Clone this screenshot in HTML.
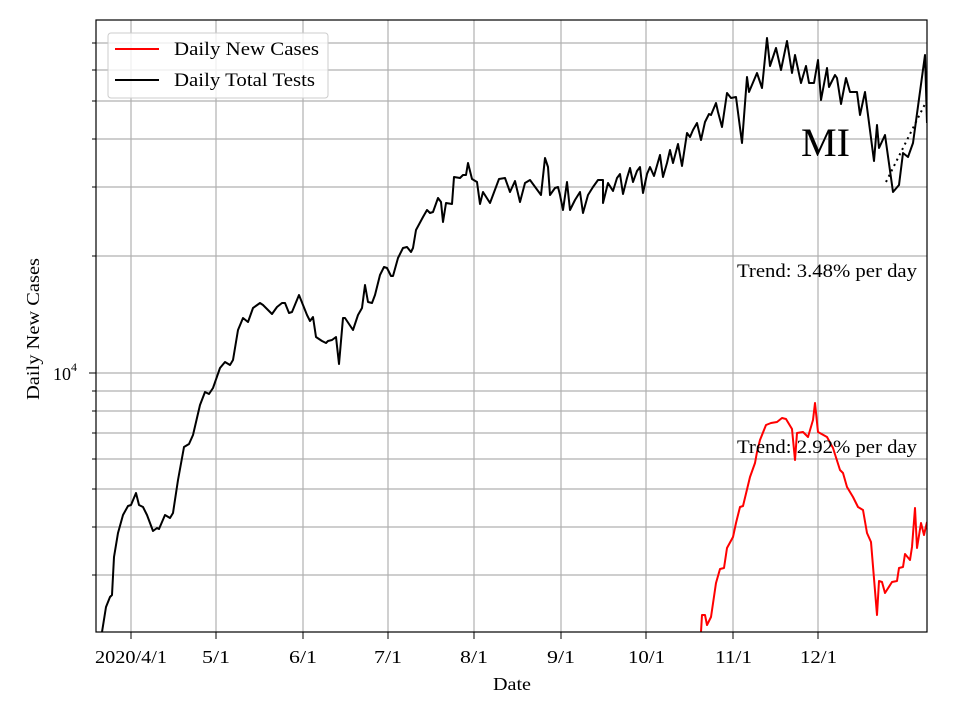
<!DOCTYPE html>
<html><head><meta charset="utf-8"><style>body{margin:0;background:#fff}svg{display:block}text{font-family:"Liberation Serif",serif}</style></head><body>
<svg width="960" height="720" xmlns="http://www.w3.org/2000/svg">
<rect width="960" height="720" fill="#fff"/>
<g stroke="#b0b0b0" stroke-width="1.2">
<line x1="131" y1="20" x2="131" y2="632"/><line x1="216" y1="20" x2="216" y2="632"/><line x1="303" y1="20" x2="303" y2="632"/><line x1="388" y1="20" x2="388" y2="632"/><line x1="474" y1="20" x2="474" y2="632"/><line x1="561" y1="20" x2="561" y2="632"/><line x1="646" y1="20" x2="646" y2="632"/><line x1="733" y1="20" x2="733" y2="632"/><line x1="818" y1="20" x2="818" y2="632"/>
<line x1="96" y1="43" x2="927" y2="43"/><line x1="96" y1="70" x2="927" y2="70"/><line x1="96" y1="101" x2="927" y2="101"/><line x1="96" y1="139" x2="927" y2="139"/><line x1="96" y1="187" x2="927" y2="187"/><line x1="96" y1="256" x2="927" y2="256"/><line x1="96" y1="373" x2="927" y2="373"/><line x1="96" y1="391" x2="927" y2="391"/><line x1="96" y1="411" x2="927" y2="411"/><line x1="96" y1="433" x2="927" y2="433"/><line x1="96" y1="459" x2="927" y2="459"/><line x1="96" y1="489" x2="927" y2="489"/><line x1="96" y1="527" x2="927" y2="527"/><line x1="96" y1="575" x2="927" y2="575"/>
</g>
<g stroke="#000" stroke-width="1">
<line x1="92" y1="43" x2="96" y2="43"/><line x1="92" y1="70" x2="96" y2="70"/><line x1="92" y1="101" x2="96" y2="101"/><line x1="92" y1="139" x2="96" y2="139"/><line x1="92" y1="187" x2="96" y2="187"/><line x1="92" y1="256" x2="96" y2="256"/><line x1="89" y1="373" x2="96" y2="373"/><line x1="92" y1="391" x2="96" y2="391"/><line x1="92" y1="411" x2="96" y2="411"/><line x1="92" y1="433" x2="96" y2="433"/><line x1="92" y1="459" x2="96" y2="459"/><line x1="92" y1="489" x2="96" y2="489"/><line x1="92" y1="527" x2="96" y2="527"/><line x1="92" y1="575" x2="96" y2="575"/>
<line x1="131" y1="632" x2="131" y2="639"/><line x1="216" y1="632" x2="216" y2="639"/><line x1="303" y1="632" x2="303" y2="639"/><line x1="388" y1="632" x2="388" y2="639"/><line x1="474" y1="632" x2="474" y2="639"/><line x1="561" y1="632" x2="561" y2="639"/><line x1="646" y1="632" x2="646" y2="639"/><line x1="733" y1="632" x2="733" y2="639"/><line x1="818" y1="632" x2="818" y2="639"/>
</g>
<defs><clipPath id="c"><rect x="96" y="20" width="831" height="612"/></clipPath></defs>
<g clip-path="url(#c)" fill="none" stroke-width="2" stroke-linejoin="round">
<polyline stroke="#000" points="102,632 106,607 110,597 112,595 114,557 118,533 123,515 128,506 131,505 136,493 139,505 143,507 147,515 153,531 157,528 159,529 165,515 170,518 173,513 178,480 184,447 189,444 193,435 200,405 205,392 209,394 213,388 220,368 225,362 230,365 233,360 238,330 243,318 248,322 253,308 260,303 263,305 272,314 277,307 282,303 285,303 289,313 292,312 299,295 307,315 310,321 313,317 316,337 322,341 326,343 328,341 332,340 336,337 339,364 343,318 345,318 353,330 358,315 362,308 365,285 368,302 372,303 375,295 380,275 384,267 387,268 391,276 393,276 398,258 403,248 407,247 411,252 413,248 416,230 423,217 427,210 430,213 433,212 438,198 441,202 443,222 446,203 452,204 454,177 460,178 463,175 466,175 468,163 472,179 477,182 480,204 483,192 490,203 499,179 505,178 510,192 515,181 520,202 525,183 530,180 541,195 545,158 548,167 550,195 555,188 558,187 560,195 563,210 567,182 570,210 575,200 580,192 583,213 588,195 593,187 598,180 603,180 603,203 608,183 613,191 617,178 620,174 623,194 627,178 630,168 633,182 637,171 640,167 643,193 647,174 650,167 654,176 660,155 663,177 667,163 670,150 673,163 678,144 682,166 687,133 690,137 693,130 697,123 701,140 705,122 709,114 711,115 716,103 718,112 722,127 727,93 731,98 736,97 742,143 747,77 749,92 757,73 762,88 767,38 770,66 776,48 781,70 787,41 792,73 795,55 801,83 806,66 809,83 814,83 818,60 821,100 827,68 829,87 835,75 837,78 841,104 846,78 850,92 857,92 860,115 865,92 874,161 877,125 879,148 885,135 893,192 899,185 903,153 908,157 913,143 925,55 927,123"/>
<line x1="886" y1="182" x2="927" y2="100" stroke="#000" stroke-width="2" stroke-dasharray="2,4"/>
<polyline stroke="#f00" points="701,632 702,615 705,615 707,625 711,617 716,583 720,569 724,568 727,548 733,537 736,523 740,507 743,506 750,477 755,463 757,452 760,440 766,425 771,423 777,422 782,418 786,419 792,429 795,460 797,433 803,432 808,437 813,420 815,403 818,432 827,437 833,448 840,470 843,473 847,487 853,497 858,507 863,510 867,533 871,542 877,615 879,581 882,582 885,593 892,582 897,581 899,568 903,567 905,554 910,560 912,547 915,508 917,548 921,523 924,535 927,522"/>
</g>
<rect x="96" y="20" width="831" height="612" fill="none" stroke="#000" stroke-width="1.2"/>
<text x="801" y="156" font-size="40" textLength="49" lengthAdjust="spacingAndGlyphs">MI</text>
<text x="737" y="277" font-size="19" textLength="180" lengthAdjust="spacingAndGlyphs">Trend: 3.48% per day</text>
<text x="737" y="453" font-size="19" textLength="180" lengthAdjust="spacingAndGlyphs">Trend: 2.92% per day</text>
<rect x="108" y="33" width="220" height="65" rx="3" fill="#fff" fill-opacity="0.8" stroke="#ccc"/>
<line x1="115" y1="49" x2="159" y2="49" stroke="#f00" stroke-width="2"/>
<line x1="115" y1="80" x2="159" y2="80" stroke="#000" stroke-width="2"/>
<text x="174" y="55" font-size="19" textLength="145" lengthAdjust="spacingAndGlyphs">Daily New Cases</text>
<text x="174" y="86" font-size="19" textLength="141" lengthAdjust="spacingAndGlyphs">Daily Total Tests</text>
<g font-size="18">
<text x="95" y="663" textLength="72" lengthAdjust="spacingAndGlyphs">2020/4/1</text>
<text x="202" y="663" textLength="28" lengthAdjust="spacingAndGlyphs">5/1</text>
<text x="289" y="663" textLength="28" lengthAdjust="spacingAndGlyphs">6/1</text>
<text x="374" y="663" textLength="28" lengthAdjust="spacingAndGlyphs">7/1</text>
<text x="460" y="663" textLength="28" lengthAdjust="spacingAndGlyphs">8/1</text>
<text x="547" y="663" textLength="28" lengthAdjust="spacingAndGlyphs">9/1</text>
<text x="628" y="663" textLength="37" lengthAdjust="spacingAndGlyphs">10/1</text>
<text x="715" y="663" textLength="37" lengthAdjust="spacingAndGlyphs">11/1</text>
<text x="800" y="663" textLength="37" lengthAdjust="spacingAndGlyphs">12/1</text>
<text x="493" y="690" textLength="38" lengthAdjust="spacingAndGlyphs">Date</text>
</g>
<text x="53" y="380" font-size="18">10<tspan dy="-9" font-size="12">4</tspan></text>
<text transform="translate(39,400) rotate(-90)" font-size="18" textLength="142" lengthAdjust="spacingAndGlyphs">Daily New Cases</text>
</svg>
</body></html>
